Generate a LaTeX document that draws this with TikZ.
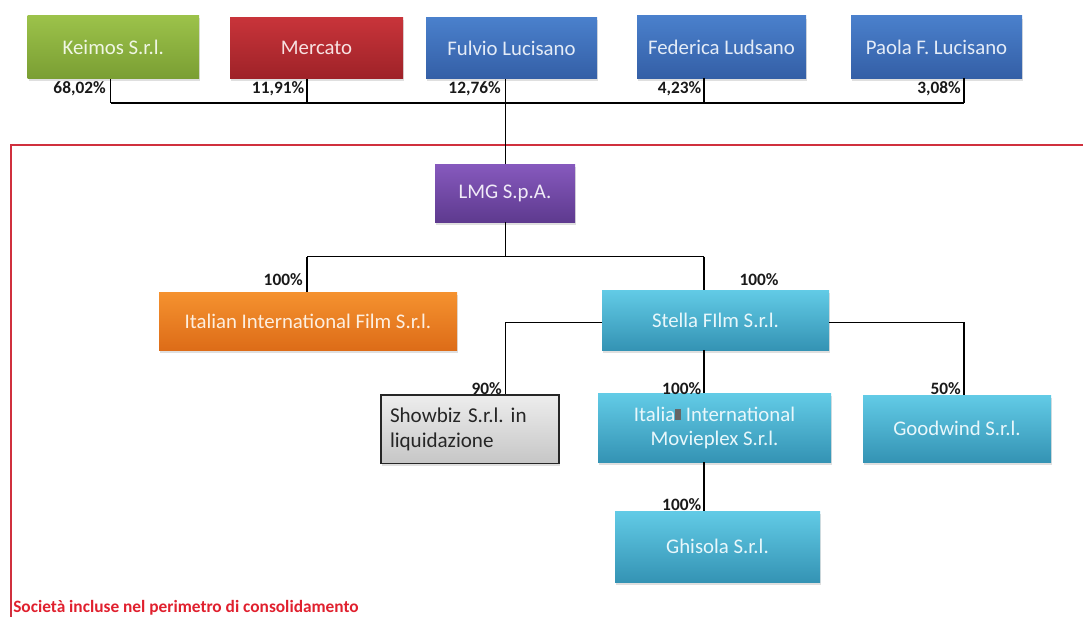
\documentclass[tikz,border=0pt]{standalone}
\usepackage{fontspec}
\setmainfont{Carlito}
\usetikzlibrary{shadows}
\frenchspacing
\definecolor{gTop}{HTML}{9CC24A}
\definecolor{gBot}{HTML}{7A9E33}
\definecolor{rTop}{HTML}{C8343A}
\definecolor{rBot}{HTML}{9E2228}
\definecolor{bTop}{HTML}{4A80CC}
\definecolor{bBot}{HTML}{345FA6}
\definecolor{pTop}{HTML}{8659BD}
\definecolor{pBot}{HTML}{5E3A8F}
\definecolor{oTop}{HTML}{F5922F}
\definecolor{oBot}{HTML}{DD6C18}
\definecolor{cTop}{HTML}{62CBE6}
\definecolor{cBot}{HTML}{3493B4}
\definecolor{sTop}{HTML}{EDEDED}
\definecolor{sBot}{HTML}{C6C6C6}
\definecolor{frameRed}{HTML}{D0303E}
\definecolor{noteRed}{HTML}{E0202E}
\tikzset{
  box/.style={rectangle, inner sep=2pt, align=center,
    font=\fontsize{15.6}{18.5}\selectfont,
    drop shadow={shadow xshift=1pt, shadow yshift=-2pt, opacity=0.25}},
  greenbox/.style={box, top color=gTop, bottom color=gBot, text=white!85!gTop},
  redbox/.style={box, top color=rTop, bottom color=rBot, text=white!85!rTop},
  bluebox/.style={box, top color=bTop, bottom color=bBot, text=white!85!bTop},
  purplebox/.style={box, top color=pTop, bottom color=pBot, text=white!88!pTop},
  orangebox/.style={box, top color=oTop, bottom color=oBot, text=white!85!oTop},
  cyanbox/.style={box, top color=cTop, bottom color=cBot, text=white!85!cTop},
  graybox/.style={box, top color=sTop, bottom color=sBot, draw=black!85, line width=1.2pt,
    text=black!85, align=left, font=\fontsize{15.8}{18.4}\selectfont},
  pct/.style={font=\bfseries\fontsize{13}{15}\selectfont, text=black!90, inner sep=0pt},
  conn/.style={draw=black, line width=1.1pt},
}
\begin{document}
\begin{tikzpicture}[x=0.75pt,y=-0.75pt]
\useasboundingbox (0,0) rectangle (1083,617);

% frame of consolidation perimeter
\coordinate (frBL) at (11,617);
\coordinate (frTL) at (11,145);
\coordinate (frTR) at (1083,145);
\draw[frameRed, line width=1.1pt] (frBL) -- (frTL) -- (frTR);

% shareholders
\node[greenbox, minimum width=128.6pt, minimum height=47.3pt] (keimos) at (113.3,47.2) {Keimos S.r.l.};
\node[redbox, minimum width=129.75pt, minimum height=45.75pt] (mercato) at (316.5,48.2) {Mercato};
\node[bluebox, minimum width=128.25pt, minimum height=45.75pt] (fulvio) at (511.5,48.2) {Fulvio Lucisano};
\node[bluebox, minimum width=126.75pt, minimum height=46.7pt] (federica) at (721.5,47) {Federica Ludsano};
\node[bluebox, minimum width=128.25pt, minimum height=46.7pt] (paola) at (936.5,47) {Paola F. Lucisano};

% group
\node[purplebox, minimum width=105pt, minimum height=43.1pt] (lmg) at (505,193.3) {LMG S.p.A.};
\node[orangebox, minimum width=223.5pt, minimum height=43.5pt] (iif) at (308,321) {Italian International Film S.r.l.};
\node[cyanbox, minimum width=170.25pt, minimum height=45pt] (stella) at (715.5,320) {Stella FIlm S.r.l.};
\node[graybox, minimum width=133.5pt, minimum height=51.5pt, text width=120pt] (showbiz) at (470,429.3) {Showbiz S.r.l. in\\liquidazione};
\node[cyanbox, minimum width=174.75pt, minimum height=51.4pt] (movieplex) at (714.5,427.8) {Italia{\color{black!60}\rule[0.05em]{0.28em}{0.55em}} International\\Movieplex S.r.l.};
\node[cyanbox, minimum width=141pt, minimum height=50.25pt] (goodwind) at (957,428.5) {Goodwind S.r.l.};
\node[cyanbox, minimum width=153.75pt, minimum height=53.6pt] (ghisola) at (717.5,546.8) {Ghisola S.r.l.};

% shareholder bus
\coordinate (j1) at (110.5,103);
\coordinate (j2) at (307,103);
\coordinate (j3) at (505.5,103);
\coordinate (j4) at (704,103);
\coordinate (j5) at (964,103);
\draw[conn] (j1) -- (j5);
\draw[conn] (keimos.south -| j1) -- (j1);
\draw[conn] (mercato.south -| j2) -- (j2);
\draw[conn] (federica.south -| j4) -- (j4);
\draw[conn] (paola.south -| j5) -- (j5);
\draw[conn] (fulvio.south -| j3) -- (lmg.north -| j3);

% LMG bus
\coordinate (k1) at (307,256.6);
\coordinate (k2) at (505.5,256.6);
\coordinate (k3) at (704,256.6);
\draw[conn] (lmg.south -| k2) -- (k2);
\draw[conn] (k1) -- (k3);
\draw[conn] (k1) -- (iif.north -| k1);
\draw[conn] (k3) -- (stella.north -| k3);

% Stella bus
\coordinate (s1) at (505.5,322.7);
\coordinate (s2) at (964,322.7);
\draw[conn] (stella.west |- s1) -- (s1) -- (showbiz.north -| s1);
\draw[conn] (stella.east |- s2) -- (s2) -- (goodwind.north -| s2);
\draw[conn] (stella.south -| k3) -- (movieplex.north -| k3);
\draw[conn] (movieplex.south -| k3) -- (ghisola.north -| k3);

% percentages
\node[pct, anchor=east] (p1) at (106,89) {68,02\%};
\node[pct, anchor=east] (p2) at (304.5,89) {11,91\%};
\node[pct, anchor=east] (p3) at (501,89) {12,76\%};
\node[pct, anchor=east] (p4) at (701.5,89) {4,23\%};
\node[pct, anchor=east] (p5) at (961,89) {3,08\%};
\node[pct, anchor=east] (p6) at (303,280) {100\%};
\node[pct] (p7) at (759,280) {100\%};
\node[pct, anchor=east] (p8) at (502,389) {90\%};
\node[pct, anchor=east] (p9) at (701.5,389) {100\%};
\node[pct, anchor=east] (p10) at (961,389) {50\%};
\node[pct, anchor=east] (p11) at (701.5,505) {100\%};

% note
\node[anchor=west, inner sep=0pt, text=noteRed, font=\bfseries\fontsize{13}{15}\selectfont] (note) at (13,608) {Società incluse nel perimetro di consolidamento};
\end{tikzpicture}
\end{document}
